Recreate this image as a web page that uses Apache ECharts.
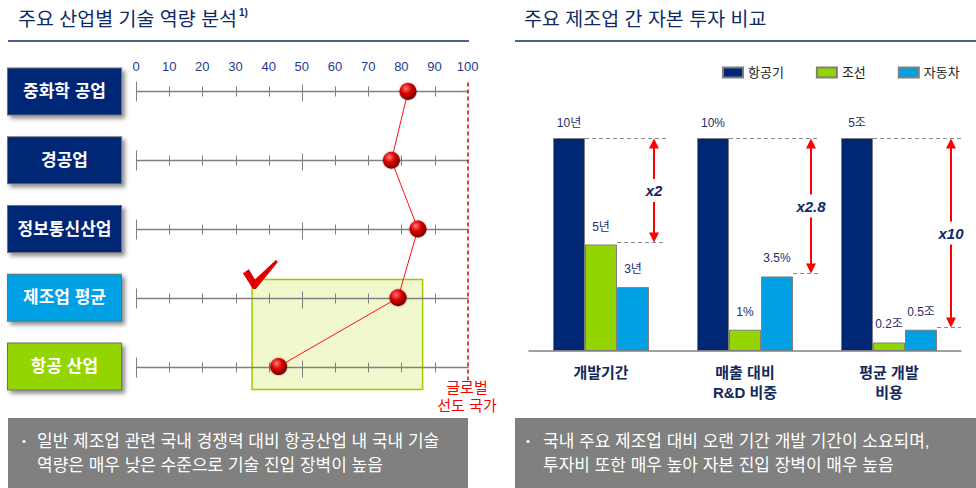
<!DOCTYPE html>
<html><head><meta charset="utf-8">
<script src="https://cdn.jsdelivr.net/npm/echarts@6/dist/echarts.min.js"></script>
<style>html,body{margin:0;padding:0;background:#fff}#c{width:976px;height:488px}</style>
</head><body><div id="c"></div>
<script>
// ---------- left panel data ----------
const industries = ['중화학 공업', '경공업', '정보통신산업', '제조업 평균', '항공 산업'];
const capability = [82, 77, 85, 79, 43];
const scaleTicks = [0, 10, 20, 30, 40, 50, 60, 70, 80, 90, 100];

// ---------- right panel data ----------
const metrics = ['개발기간', '매출 대비\nR&D 비중', '평균 개발\n비용'];
const seriesNames = ['항공기', '조선', '자동차'];
const aircraft = [10, 10, 5];
const shipbuilding = [5, 1, 0.2];
const automobile = [3, 3.5, 0.5];
const aircraftLabels = ['10년', '10%', '5조'];
const shipLabels = ['5년', '1%', '0.2조'];
const autoLabels = ['3년', '3.5%', '0.5조'];
const ratioLabels = ['x2', 'x2.8', 'x10'];
const compareWith = [1, 2, 2]; // 0 항공기, 1 조선, 2 자동차

// ---------- styles ----------
const FONT = "'Liberation Sans', 'Noto Sans CJK KR', sans-serif";
const NAVY = '#002776', LBLUE = '#00a0e4', GREEN = '#94d400';
const TXT = '#102a66';
const boxColors = [NAVY, NAVY, NAVY, LBLUE, GREEN];

const rel = arr => arr.map((v, i) => v / aircraft[i] * 100);
const barSets = [
  [seriesNames[0], rel(aircraft), aircraftLabels, NAVY, 9],
  [seriesNames[1], rel(shipbuilding), shipLabels, GREEN, 12],
  [seriesNames[2], rel(automobile), autoLabels, LBLUE, 12]
];

const rich = {};
boxColors.forEach((c, i) => {
  rich['b' + i] = {
    width: 113, height: 46, lineHeight: 46, align: 'center', color: '#fff',
    fontSize: 17, fontWeight: 'bold', fontFamily: FONT, backgroundColor: c,
    borderColor: '#6f6f6f', borderWidth: 1,
    shadowColor: 'rgba(0,0,0,0.45)', shadowBlur: 4, shadowOffsetX: 3, shadowOffsetY: 3
  };
});

const sphere = new echarts.graphic.RadialGradient(0.38, 0.32, 0.7, [
  {offset: 0, color: '#ff7a7a'}, {offset: 0.45, color: '#e00000'}, {offset: 1, color: '#6a0000'}
]);

const chart = echarts.init(document.getElementById('c'), null, {renderer: 'svg'});

const option = {
  backgroundColor: '#fff',
  animation: false,
  legend: {
    data: seriesNames, left: 717, top: 61, itemWidth: 20, itemHeight: 10, itemGap: 32,
    icon: 'rect', textStyle: {fontSize: 13, color: '#222', fontFamily: FONT}
  },
  grid: [
    {left: 136, right: 508.3, top: 57.1, bottom: 87.1},
    {left: 529, right: 15, top: 138, bottom: 137}
  ],
  xAxis: [
    {type: 'value', gridIndex: 0, min: 0, max: 100, interval: 10, position: 'top',
      axisLine: {show: false}, axisTick: {show: false}, splitLine: {show: false},
      axisLabel: {inside: true, margin: 3, color: '#1d3b8f', fontSize: 13, fontFamily: 'Liberation Sans'}},
    {type: 'category', gridIndex: 1, data: metrics,
      axisLine: {lineStyle: {color: '#808080', width: 1.5}}, axisTick: {show: false},
      axisLabel: {margin: 11, color: '#14285a', fontSize: 15, fontWeight: 'bold', lineHeight: 20, fontFamily: FONT}}
  ],
  yAxis: [
    {type: 'category', gridIndex: 0, data: industries, inverse: true,
      axisLine: {show: false}, axisTick: {show: false}, splitLine: {show: false},
      axisLabel: {margin: 15, formatter: (v, i) => '{b' + i + '|' + v + '}', rich: rich}},
    {type: 'value', gridIndex: 0, min: -0.5, max: 4.5, inverse: true, show: false},
    {type: 'value', gridIndex: 1, min: 0, max: 100, show: false}
  ],
  series: [
    // highlight box + check mark (annotations)
    {type: 'line', xAxisIndex: 0, yAxisIndex: 1, data: [], z: 1, silent: true,
      markArea: {silent: true, itemStyle: {color: '#f2f8cd', borderColor: '#99cc00', borderWidth: 1.5},
        data: [[{coord: [35, 2.735]}, {coord: [86.4, 4.335]}]]},
      markPoint: {silent: true, symbol: 'path://M0,13 L6,9 L12,19 L33,0 L35,2 L13,28 L10,28 Z',
        symbolSize: [35, 29], symbolKeepAspect: false, itemStyle: {color: '#e00000'},
        label: {show: false}, data: [{coord: [37.5, 2.66]}]}
    },
    // scale rows with ticks
    {type: 'custom', xAxisIndex: 0, yAxisIndex: 1, z: 3, silent: true,
      data: industries.map((_, i) => [0, i]), encode: {x: 0, y: 1},
      renderItem: (params, api) => {
        const r = api.value(1);
        const a = api.coord([0, r]), b = api.coord([100, r]);
        const y = Math.round(a[1]) + 0.5;
        const ch = [{type: 'line', shape: {x1: a[0], y1: y, x2: b[0] + 1, y2: y},
          style: {stroke: '#808080', lineWidth: 1.5}}];
        scaleTicks.slice(0, -1).forEach(v => {
          const p = api.coord([v, r]);
          const x = Math.round(p[0]) + 0.5;
          const up = v === 0 ? 10 : (v === 50 ? 7 : 5);
          const dn = (v === 0 || v === 50) ? 10 : 5;
          ch.push({type: 'line', shape: {x1: x, y1: y - up, x2: x, y2: y + dn},
            style: {stroke: '#808080', lineWidth: 1}});
        });
        return {type: 'group', children: ch};
      }
    },
    // capability line
    {type: 'line', xAxisIndex: 0, yAxisIndex: 1, z: 5, silent: true,
      data: capability.map((v, i) => [v, i]),
      symbol: 'circle', symbolSize: 17,
      lineStyle: {color: '#ff1010', width: 1},
      itemStyle: {color: sphere, shadowBlur: 2, shadowColor: 'rgba(0,0,0,0.4)'},
      markLine: {silent: true, symbol: 'none', label: {show: false},
        lineStyle: {color: '#e00000', type: [4, 3], width: 1.5},
        data: [[{coord: [100, -0.13]}, {coord: [100, 4.2]}]]}
    },
    // bars
    ...barSets.map(([name, vals, lbls, color, dist]) => ({
      name, type: 'bar', xAxisIndex: 1, yAxisIndex: 2, barWidth: 32, barGap: '0%',
      data: vals, silent: true,
      itemStyle: {color, borderColor: '#7f7f7f', borderWidth: 1},
      label: {show: true, position: 'top', distance: dist, formatter: p => lbls[p.dataIndex],
        color: '#1f2d6b', fontSize: 12, fontFamily: FONT}
    })),
    // ratio annotations
    {type: 'custom', xAxisIndex: 1, yAxisIndex: 2, z: 6, silent: true,
      data: metrics.map((m, i) => [i, barSets[0][1][i], barSets[compareWith[i]][1][i], compareWith[i]]),
      encode: {x: 0, y: 1},
      renderItem: (params, api) => {
        const i = params.dataIndex;
        const k = api.value(3);
        const pT = api.coord([i, api.value(1)]);
        const pC = api.coord([i, api.value(2)]);
        const cx = pT[0];
        const ext = [65, 74, 72][i], ax = cx + [53, 66, 62][i];
        const yT = Math.round(pT[1]) + 0.5, yC = Math.round(pC[1]) - 2.5;
        const dash = {stroke: '#8c8c8c', lineWidth: 1, lineDash: [4, 3]};
        const red = '#ff0000';
        return {type: 'group', children: [
          {type: 'line', shape: {x1: cx - 16, y1: yT, x2: cx + ext, y2: yT}, style: dash},
          {type: 'line', shape: {x1: cx - 48 + 32 * (k + 1), y1: yC, x2: cx + ext, y2: yC}, style: dash},
          {type: 'line', shape: {x1: ax, y1: yT + 8, x2: ax, y2: yC - 8}, style: {stroke: red, lineWidth: 2}},
          {type: 'polygon', shape: {points: [[ax, yT], [ax - 5, yT + 10], [ax + 5, yT + 10]]}, style: {fill: red}},
          {type: 'polygon', shape: {points: [[ax, yC], [ax - 5, yC - 10], [ax + 5, yC - 10]]}, style: {fill: red}},
          {type: 'text', x: ax, y: (yT + yC) / 2, style: {text: ratioLabels[i], align: 'center', verticalAlign: 'middle',
            font: 'italic bold 15px "Liberation Sans", sans-serif', fill: TXT, backgroundColor: '#fff', padding: [4, 2]}}
        ]};
      }
    }
  ],
  graphic: [
    {type: 'text', x: 18, y: 19, style: {
      text: '{t|주요 산업별 기술 역량 분석}{s|1)}', verticalAlign: 'middle', textVerticalAlign: 'middle',
      rich: {t: {fontSize: 19.5, fontFamily: FONT, fill: TXT, color: TXT, lineHeight: 24},
             s: {fontSize: 10, fontWeight: 'bold', fontFamily: 'Liberation Sans', fill: TXT, color: TXT, verticalAlign: 'top', lineHeight: 12, padding: [0, 0, 0, 2]}}}},
    {type: 'line', shape: {x1: 8, y1: 41, x2: 469, y2: 41}, style: {stroke: TXT, lineWidth: 1.5}},
    {type: 'text', x: 524, y: 19, style: {text: '주요 제조업 간 자본 투자 비교', font: '19.5px ' + FONT, fill: TXT,
      verticalAlign: 'middle', textVerticalAlign: 'middle'}},
    {type: 'line', shape: {x1: 515, y1: 41, x2: 976, y2: 41}, style: {stroke: TXT, lineWidth: 1.5}},
    {type: 'text', x: 467, y: 387, style: {text: '글로벌', font: '15px ' + FONT, fill: '#ff0000',
      align: 'center', textAlign: 'center', verticalAlign: 'middle', textVerticalAlign: 'middle'}},
    {type: 'text', x: 467, y: 405, style: {text: '선도 국가', font: '15px ' + FONT, fill: '#ff0000',
      align: 'center', textAlign: 'center', verticalAlign: 'middle', textVerticalAlign: 'middle'}},
    {type: 'rect', shape: {x: 8, y: 418, width: 460, height: 70}, style: {fill: '#808080'}},
    {type: 'rect', shape: {x: 515, y: 418, width: 461, height: 70}, style: {fill: '#808080'}},
    {type: 'text', x: 22, y: 441, style: {text: '•', font: '11px ' + FONT, fill: '#fff', verticalAlign: 'middle', textVerticalAlign: 'middle'}},
    {type: 'text', x: 37, y: 441, style: {text: '일반 제조업 관련 국내 경쟁력 대비 항공산업 내 국내 기술', font: '17px ' + FONT, fill: '#fff', verticalAlign: 'middle', textVerticalAlign: 'middle'}},
    {type: 'text', x: 37, y: 465, style: {text: '역량은 매우 낮은 수준으로 기술 진입 장벽이 높음', font: '17px ' + FONT, fill: '#fff', verticalAlign: 'middle', textVerticalAlign: 'middle'}},
    {type: 'text', x: 526, y: 441, style: {text: '•', font: '11px ' + FONT, fill: '#fff', verticalAlign: 'middle', textVerticalAlign: 'middle'}},
    {type: 'text', x: 543, y: 441, style: {text: '국내 주요 제조업 대비 오랜 기간 개발 기간이 소요되며,', font: '17px ' + FONT, fill: '#fff', verticalAlign: 'middle', textVerticalAlign: 'middle'}},
    {type: 'text', x: 543, y: 465, style: {text: '투자비 또한 매우 높아 자본 진입 장벽이 매우 높음', font: '17px ' + FONT, fill: '#fff', verticalAlign: 'middle', textVerticalAlign: 'middle'}}
  ]
};
chart.setOption(option);
</script>
</body></html>
